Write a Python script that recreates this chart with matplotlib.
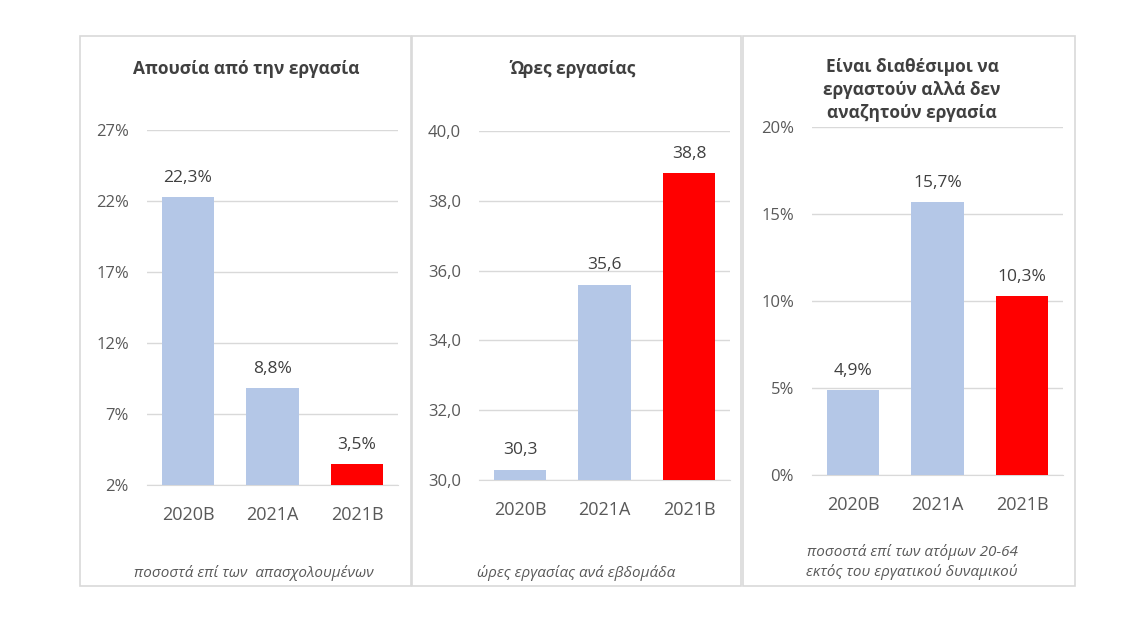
import matplotlib.pyplot as plt
from matplotlib.patches import Rectangle

plt.rcParams['font.family'] = ['Open Sans', 'DejaVu Sans']

categories = ['2020B', '2021A', '2021B']

absence = [22.3, 8.8, 3.5]
absence_ticks = [2, 7, 12, 17, 22, 27]

hours = [30.3, 35.6, 38.8]
hours_ticks = [30, 32, 34, 36, 38, 40]

available = [4.9, 15.7, 10.3]
available_ticks = [0, 5, 10, 15, 20]

titles = ['Απουσία από την εργασία',
          'Ώρες εργασίας',
          'Είναι διαθέσιμοι να\nεργαστούν αλλά δεν\nαναζητούν εργασία']
notes = ['ποσοστά επί των  απασχολουμένων',
         'ώρες εργασίας ανά εβδομάδα',
         'ποσοστά επί των ατόμων 20-64\nεκτός του εργατικού δυναμικού']

blue = '#B4C7E7'
red = '#FF0000'
text_c = '#595959'
grid_c = '#D9D9D9'

W, H = 1127, 629
fig = plt.figure(figsize=(W / 100, H / 100), dpi=100)


def px(x0, y0, x1, y1):
    # pixel box -> figure fraction [left, bottom, width, height]
    return [x0 / W, 1 - y1 / H, (x1 - x0) / W, (y1 - y0) / H]


# panel frames
for x0, x1 in [(80, 411), (412, 741), (743, 1075)]:
    fig.patches.append(Rectangle((x0 / W, 1 - 586 / H), (x1 - x0) / W, 550 / H,
                                 transform=fig.transFigure, fill=False,
                                 edgecolor=grid_c, linewidth=1.2))

panels = [
    dict(values=absence, ticks=absence_ticks, box=px(147, 130, 398, 485),
         fmt=lambda v: f'{v:.1f}%'.replace('.', ','), tfmt=lambda t: f'{t}%',
         title_xy=(246, 69), note_xy=(254, 573)),
    dict(values=hours, ticks=hours_ticks, box=px(479, 131, 730, 480),
         fmt=lambda v: f'{v:.1f}'.replace('.', ','), tfmt=lambda t: f'{t:.1f}'.replace('.', ','),
         title_xy=(573, 69), note_xy=(576, 573)),
    dict(values=available, ticks=available_ticks, box=px(812, 127, 1063, 475),
         fmt=lambda v: f'{v:.1f}%'.replace('.', ','), tfmt=lambda t: f'{t}%',
         title_xy=(912, 90), note_xy=(912, 562)),
]

for i, p in enumerate(panels):
    ax = fig.add_axes(p['box'])
    colors = [blue, blue, red]
    bars = ax.bar(range(3), [v - p['ticks'][0] for v in p['values']],
                  bottom=p['ticks'][0], width=0.62, color=colors, zorder=3)
    ax.set_xlim(-0.485, 2.485)
    ax.set_ylim(p['ticks'][0], p['ticks'][-1])
    ax.set_yticks(p['ticks'])
    ax.set_yticklabels([p['tfmt'](t) for t in p['ticks']])
    ax.set_xticks(range(3))
    ax.set_xticklabels(categories, fontsize=13)
    ax.tick_params(axis='x', length=0, pad=15, colors=text_c)
    ax.tick_params(axis='y', length=0, pad=13, colors=text_c, labelsize=12)
    ax.grid(axis='y', color=grid_c, linewidth=1, zorder=0)
    for s in ax.spines.values():
        s.set_visible(False)
    ax.spines['bottom'].set_visible(True)
    ax.spines['bottom'].set_color(grid_c)
    for b, v in zip(bars, p['values']):
        ax.annotate(p['fmt'](v), (b.get_x() + b.get_width() / 2, v),
                    xytext=(0, 8), textcoords='offset points',
                    ha='center', va='bottom', fontsize=12.5, color='#404040')
    tx, ty = p['title_xy']
    fig.text(tx / W, 1 - ty / H, titles[i], ha='center', va='center',
             fontsize=12.5, fontweight='bold', color='#404040', linespacing=1.35)
    nx, ny = p['note_xy']
    fig.text(nx / W, 1 - ny / H, notes[i], ha='center', va='center',
             fontsize=11, style='italic', color=text_c, linespacing=1.4)

fig.savefig('out.png', dpi=100)
